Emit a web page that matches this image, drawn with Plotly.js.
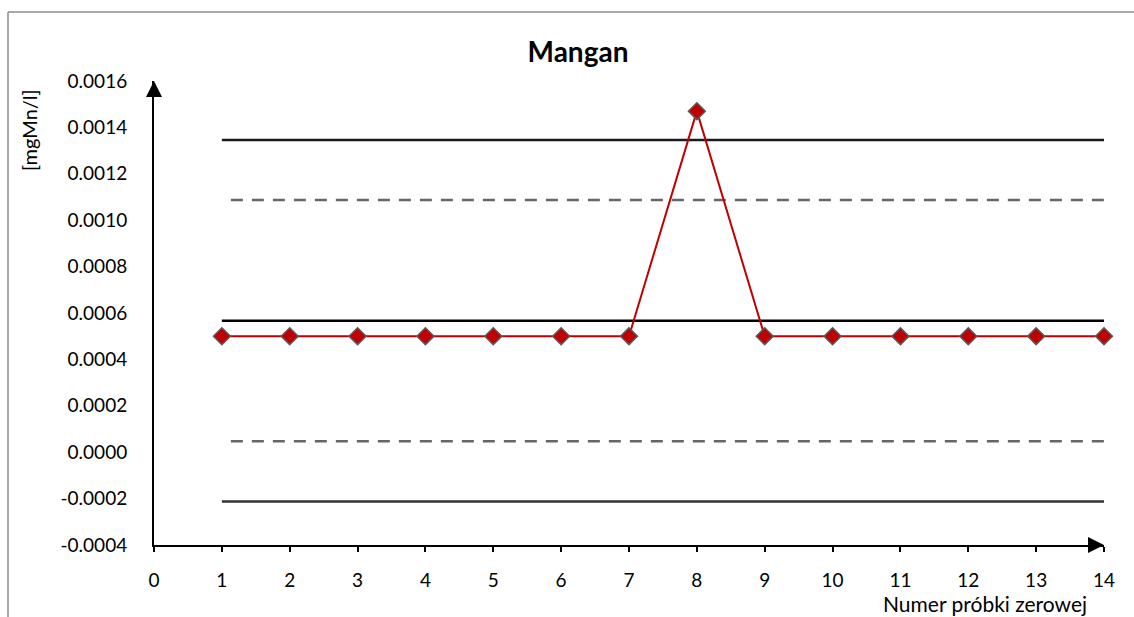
<!DOCTYPE html>
<html>
<head>
<meta charset="utf-8">
<script src="https://cdn.plot.ly/plotly-3.0.1.min.js"></script>
<style>html,body{margin:0;padding:0;background:#fff;}#chart{width:1134px;height:617px;}</style>
</head>
<body>
<div id="chart"></div>
<script>
// Data
var samples = [1, 2, 3, 4, 5, 6, 7, 8, 9, 10, 11, 12, 13, 14];
var values  = [0.0005, 0.0005, 0.0005, 0.0005, 0.0005, 0.0005, 0.0005, 0.00147, 0.0005, 0.0005, 0.0005, 0.0005, 0.0005, 0.0005];
var limitX = [1, 14];
var meanLine = [0.000567, 0.000567];
var upperWarning = [0.001087, 0.001087];
var lowerWarning = [0.000047, 0.000047];
var upperControl = [0.001346, 0.001346];
var lowerControl = [-0.000212, -0.000212];
var yTickVals = [-0.0004, -0.0002, 0, 0.0002, 0.0004, 0.0006, 0.0008, 0.001, 0.0012, 0.0014, 0.0016];
var yTickText = ["-0.0004", "-0.0002", "0.0000", "0.0002", "0.0004", "0.0006", "0.0008", "0.0010", "0.0012", "0.0014", "0.0016"];
var xTickVals = [0, 1, 2, 3, 4, 5, 6, 7, 8, 9, 10, 11, 12, 13, 14];

var FONT = "Lato, 'Open Sans', sans-serif";

var traces = [
  {x: limitX, y: upperControl, mode: "lines", line: {color: "#1a1a1a", width: 2.5}, hoverinfo: "skip"},
  {x: limitX, y: upperWarning, mode: "lines", line: {color: "#666666", width: 2.5, dash: "0px,9px,12px,0px"}, hoverinfo: "skip"},
  {x: limitX, y: meanLine, mode: "lines", line: {color: "#000000", width: 2.5}, hoverinfo: "skip"},
  {x: limitX, y: lowerWarning, mode: "lines", line: {color: "#666666", width: 2.5, dash: "0px,9px,12px,0px"}, hoverinfo: "skip"},
  {x: limitX, y: lowerControl, mode: "lines", line: {color: "#333333", width: 2.5}, hoverinfo: "skip"},
  {x: samples, y: values, mode: "lines+markers", cliponaxis: false,
   line: {color: "#c00000", width: 2},
   marker: {symbol: "diamond", size: 13, color: "#c00000", line: {color: "#595959", width: 1.5}}}
];

var layout = {
  width: 1134, height: 617,
  margin: {l: 154, r: 30, t: 81, b: 72, pad: 0},
  paper_bgcolor: "#ffffff", plot_bgcolor: "#ffffff",
  showlegend: false,
  font: {family: FONT, color: "#000000", size: 19},
  title: {text: "<b>Mangan</b>", font: {family: FONT, size: 28, color: "#000"},
          xref: "container", yref: "container", x: 0.5097, y: 0.916, xanchor: "center", yanchor: "middle"},
  xaxis: {range: [0, 14], tickvals: xTickVals, showgrid: false, zeroline: false,
          showline: true, linecolor: "#000", linewidth: 2,
          ticks: "outside", ticklen: 5, tickwidth: 2, tickcolor: "#000",
          ticklabelstandoff: 12, tickfont: {family: FONT, size: 19}},
  yaxis: {range: [-0.0004, 0.0016], tickvals: yTickVals, ticktext: yTickText, showgrid: false, zeroline: false,
          showline: true, linecolor: "#000", linewidth: 2, ticks: "",
          ticklabelstandoff: 21, tickfont: {family: FONT, size: 19}},
  annotations: [
    {text: "[mgMn/l]", textangle: -90, xref: "paper", yref: "paper",
     x: (29 - 154) / 950, y: (545 - 130) / 464, showarrow: false, xanchor: "center", yanchor: "middle",
     font: {family: FONT, size: 20}},
    {text: "Numer próbki zerowej", xref: "paper", yref: "paper",
     x: (1089 - 154) / 950, y: (545 - 603) / 464, showarrow: false, xanchor: "right", yanchor: "middle",
     font: {family: FONT, size: 21}},
    {text: "", xref: "x", yref: "y", x: 14, y: -0.0004, ax: -16, ay: 0, showarrow: true,
     arrowhead: 2, arrowsize: 1.6, arrowwidth: 2, arrowcolor: "#000"},
    {text: "", xref: "x", yref: "y", x: 0, y: 0.0016, ax: 0, ay: 16, showarrow: true,
     arrowhead: 2, arrowsize: 1.6, arrowwidth: 2, arrowcolor: "#000"}
  ],
  shapes: [
    {type: "line", xref: "paper", yref: "paper", x0: (8 - 154) / 950, x1: (1140 - 154) / 950,
     y0: (545 - 12) / 464, y1: (545 - 12) / 464, line: {color: "#8c8c8c", width: 1.5}},
    {type: "line", xref: "paper", yref: "paper", x0: (8 - 154) / 950, x1: (8 - 154) / 950,
     y0: (545 - 12) / 464, y1: (545 - 630) / 464, line: {color: "#8c8c8c", width: 1.5}}
  ]
};

Plotly.newPlot("chart", traces, layout, {staticPlot: true, displayModeBar: false});
</script>
</body>
</html>
